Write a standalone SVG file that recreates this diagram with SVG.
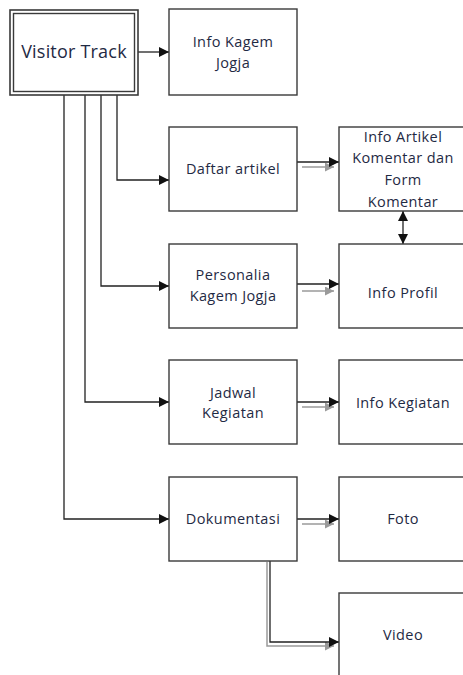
<svg xmlns="http://www.w3.org/2000/svg" width="463" height="675" viewBox="0 0 463 675">
<style>
.box{fill:#fff;stroke:#3a3a3a;stroke-width:1.4}
.t{font-family:"Open Sans","DejaVu Sans",sans-serif;font-size:14.5px;letter-spacing:0.4px;fill:#1f2a44;text-anchor:middle}
.c{fill:none;stroke:#222;stroke-width:1.3}
.s{fill:none;stroke:#9a9a9a;stroke-width:1.5}
</style>
<defs>
<marker id="ah" viewBox="0 0 10 10" refX="10" refY="5" markerWidth="13" markerHeight="10" markerUnits="userSpaceOnUse" orient="auto-start-reverse"><path d="M0,0 L10,5 L0,10 Z" fill="#111"/></marker>
<marker id="ag" viewBox="0 0 10 10" refX="10" refY="5" markerWidth="12" markerHeight="9" markerUnits="userSpaceOnUse" orient="auto"><path d="M0,0 L10,5 L0,10 Z" fill="#9a9a9a"/></marker>
</defs>
<rect width="463" height="675" fill="#fff"/>
<g id="connectors">
<path class="s" d="M302,167 H334" marker-end="url(#ag)"/>
<path class="s" d="M302,291 H334" marker-end="url(#ag)"/>
<path class="s" d="M302,407 H334" marker-end="url(#ag)"/>
<path class="s" d="M302,524 H334" marker-end="url(#ag)"/>
<path class="s" d="M267,562 V646 H334" marker-end="url(#ag)"/>
<path class="c" d="M138,52 H169" marker-end="url(#ah)"/>
<path class="c" d="M117,95 V180 H169" marker-end="url(#ah)"/>
<path class="c" d="M101,95 V286 H169" marker-end="url(#ah)"/>
<path class="c" d="M85,95 V402 H169" marker-end="url(#ah)"/>
<path class="c" d="M64,95 V519 H169" marker-end="url(#ah)"/>
<path class="c" d="M297,162 H339" marker-end="url(#ah)"/>
<path class="c" d="M297,284 H339" marker-end="url(#ah)"/>
<path class="c" d="M297,402 H339" marker-end="url(#ah)"/>
<path class="c" d="M297,519 H339" marker-end="url(#ah)"/>
<path class="c" d="M270,561 V642 H339" marker-end="url(#ah)"/>
<path class="c" d="M403,211 V244" marker-start="url(#ah)" marker-end="url(#ah)"/>
</g>
<g id="visitor-track">
<rect x="10" y="10" width="128" height="85" fill="#fff" stroke="#3a3a3a" stroke-width="1.6"/>
<rect x="13.5" y="13.5" width="121" height="78" fill="none" stroke="#3a3a3a" stroke-width="1.4"/>
<text x="74" y="58" class="t" style="font-size:18px;letter-spacing:0.2px">Visitor Track</text>
</g>
<g id="info-kagem-jogja">
<rect class="box" x="169" y="9" width="128" height="86"/>
<text class="t" x="233" y="47">Info Kagem</text>
<text class="t" x="233" y="68">Jogja</text>
</g>
<g id="daftar-artikel">
<rect class="box" x="169" y="127" width="128" height="84"/>
<text class="t" x="233" y="174">Daftar artikel</text>
</g>
<g id="info-artikel">
<rect class="box" x="339" y="127" width="130" height="84"/>
<text class="t" x="403" y="142">Info Artikel</text>
<text class="t" x="403" y="163">Komentar dan</text>
<text class="t" x="403" y="185">Form</text>
<text class="t" x="403" y="207">Komentar</text>
</g>
<g id="personalia">
<rect class="box" x="169" y="244" width="128" height="84"/>
<text class="t" x="233" y="280">Personalia</text>
<text class="t" x="233" y="301">Kagem Jogja</text>
</g>
<g id="info-profil">
<rect class="box" x="339" y="244" width="130" height="84"/>
<text class="t" x="403" y="298">Info Profil</text>
</g>
<g id="jadwal-kegiatan">
<rect class="box" x="169" y="360" width="128" height="84"/>
<text class="t" x="233" y="398">Jadwal</text>
<text class="t" x="233" y="418">Kegiatan</text>
</g>
<g id="info-kegiatan">
<rect class="box" x="339" y="360" width="130" height="84"/>
<text class="t" x="403" y="408">Info Kegiatan</text>
</g>
<g id="dokumentasi">
<rect class="box" x="169" y="477" width="128" height="84"/>
<text class="t" x="233" y="524">Dokumentasi</text>
</g>
<g id="foto">
<rect class="box" x="339" y="477" width="130" height="84"/>
<text class="t" x="403" y="524">Foto</text>
</g>
<g id="video">
<rect class="box" x="339" y="593" width="130" height="90"/>
<text class="t" x="403" y="640">Video</text>
</g>
</svg>
